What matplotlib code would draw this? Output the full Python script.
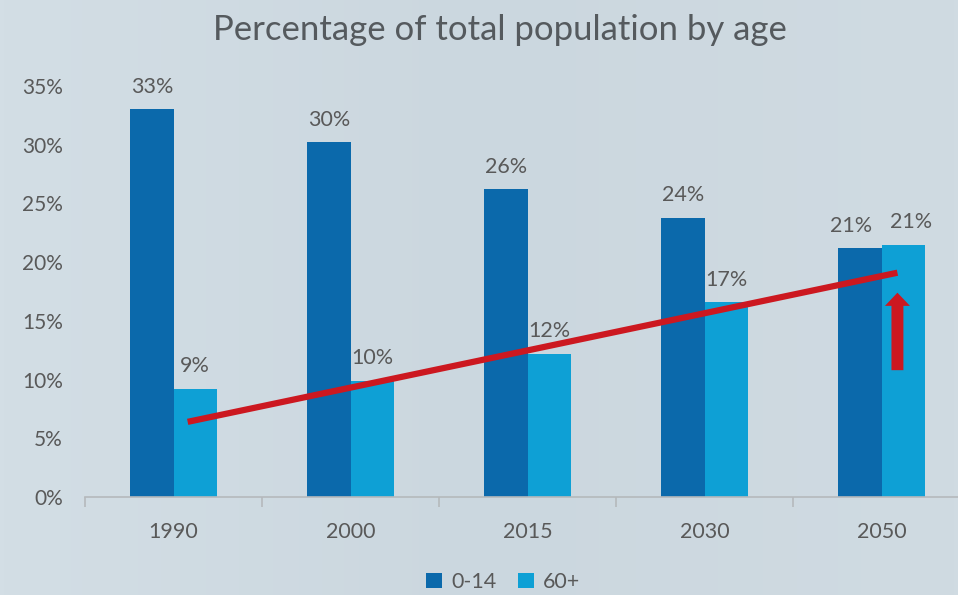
import matplotlib
matplotlib.use("Agg")
import matplotlib.pyplot as plt
import numpy as np
from matplotlib.colors import LinearSegmentedColormap

years = ["1990", "2000", "2015", "2030", "2050"]
young = [33.0, 30.2, 26.2, 23.8, 21.2]
old = [9.2, 9.9, 12.2, 16.6, 21.5]
young_labels = ["33%", "30%", "26%", "24%", "21%"]
old_labels = ["9%", "10%", "12%", "17%", "21%"]
trend_x = [0.08, 4.09]
trend_y = [6.4, 19.1]
arrow_x = 4.09
arrow_y = [10.8, 17.4]

plt.rcParams['font.family'] = ['Lato', 'DejaVu Sans']
bg = '#cfdbe2'
dark = '#0b69ab'
light = '#0ea0d5'
red = '#cc1820'
txt = '#595959'

fig = plt.figure(figsize=(9.58, 5.95), dpi=100)
fig.patch.set_facecolor(bg)
grad = np.linspace(0, 1, 256).reshape(1, -1)
bgax = fig.add_axes([0, 0, 1, 1], zorder=-10)
cm = LinearSegmentedColormap.from_list('bg', ['#d3dee5', '#cbd7df', '#d0dbe2'])
bgax.imshow(grad, aspect='auto', cmap=cm, extent=[0, 1, 0, 1])
bgax.axis('off')

ax = fig.add_axes([85/958, 1-497/595, (970-85)/958, (497-86)/595])
ax.set_facecolor('none')
x = np.arange(len(years))
w = 0.245
b1 = ax.bar(x - w/2, young, w, color=dark, label='0-14', zorder=2)
b2 = ax.bar(x + w/2, old, w, color=light, label='60+', zorder=2)
n = len(years)
for bars, labs, sign in ((b1, young_labels, -1), (b2, old_labels, 1)):
    for i, (rect, lab) in enumerate(zip(bars, labs)):
        dx = sign * 6 if i == n - 1 else 0  # avoid overlapping labels in last group
        ax.annotate(lab, (rect.get_x() + rect.get_width()/2, rect.get_height()),
                    xytext=(dx, 9), textcoords='offset points', ha='center', va='bottom',
                    fontsize=15.5, color=txt)

ax.plot(trend_x, trend_y, color=red, lw=4.5, solid_capstyle='butt', zorder=3)
ax.annotate('', xy=(arrow_x, arrow_y[1]), xytext=(arrow_x, arrow_y[0]),
            arrowprops=dict(arrowstyle='simple,head_length=0.95,head_width=1.8,tail_width=0.86',
                            color=red, lw=0, shrinkA=0, shrinkB=0, mutation_scale=10), zorder=4)

ax.set_xlim(-0.5, 4.5)
ax.set_ylim(0, 35)
ax.set_yticks(np.arange(0, 36, 5))
ax.set_yticklabels([f"{v}%" for v in range(0, 36, 5)])
ax.tick_params(axis='y', length=0, pad=16, labelsize=15, labelcolor=txt)
ax.set_xticks(np.arange(-0.5, 5, 1))
ax.set_xticklabels([])
ax.set_xticks(x, minor=True)
ax.set_xticklabels(years, minor=True)
ax.tick_params(axis='x', which='major', length=7, width=1.2, color='#b5b9bc', direction='out')
ax.tick_params(axis='x', which='minor', length=0, pad=18, labelsize=15.5, labelcolor=txt)
for s in ['top', 'right', 'left']:
    ax.spines[s].set_visible(False)
ax.spines['bottom'].set_color('#b5b9bc')
ax.spines['bottom'].set_linewidth(1.2)

fig.text(500/958, 1-30/595, 'Percentage of total population by age', ha='center', va='center',
         fontsize=25, color='#555a5e')

fig.legend(handles=[b1, b2], labels=['0-14', '60+'], loc='center',
           bbox_to_anchor=(503/958, 1-582/595), ncol=2, frameon=False,
           fontsize=15.5, labelcolor=txt, handlelength=0.75, handleheight=0.75,
           handletextpad=0.4, columnspacing=1.0)

fig.savefig('out.png', dpi=100, facecolor=fig.get_facecolor())
